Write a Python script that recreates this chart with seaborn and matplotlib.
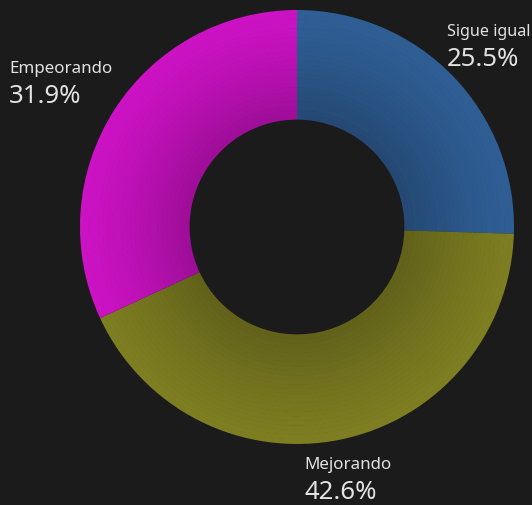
import numpy as np
import matplotlib
matplotlib.use("Agg")
import matplotlib.pyplot as plt
import seaborn as sns
from matplotlib.colors import to_rgb

categories = ["Sigue igual", "Mejorando", "Empeorando"]
values = [25.5, 42.6, 31.9]
colors = ["#2f5e95", "#7d7d22", "#cc12c4"]
pct_labels = ["25.5%", "42.6%", "31.9%"]

sns.set_theme(style="dark")
plt.rcParams['font.family'] = ['Noto Sans', 'DejaVu Sans']

BG = "#1b1b1b"
W, H = 532, 506
fig = plt.figure(figsize=(W / 100, H / 100), dpi=100, facecolor=BG)
ax = fig.add_axes([0, 0, 1, 1])
ax.set_facecolor(BG)

cx, cy = 297, H - 228
r_out, r_in = 217, 108
n = 24
edges = np.linspace(r_out, r_in, n + 1)
for i in range(n):
    t = i / (n - 1)
    f = 1.0 - 0.22 * t ** 1.3
    cols = [tuple(np.array(to_rgb(c)) * f) for c in colors]
    ax.pie(values, colors=cols, startangle=90, counterclock=False,
           radius=edges[i], center=(cx, cy),
           wedgeprops=dict(width=edges[i] - edges[i + 1] + 0.6, linewidth=0))
ax.set_xlim(0, W)
ax.set_ylim(0, H)
ax.set_aspect("equal")
ax.axis("off")

label_pos = {"Sigue igual": (447, 36), "Mejorando": (304, 469), "Empeorando": (9, 73)}
txt = "#e2e2e2"
renderer = fig.canvas.get_renderer()
for cat, pl in zip(categories, pct_labels):
    x, y = label_pos[cat]
    t1 = ax.text(x, H - y, cat, color=txt, fontsize=12.2, ha="left", va="baseline")
    # shrink if the label would run past the right edge
    bb = t1.get_window_extent(renderer)
    if bb.x1 > W - 1:
        t1.set_fontsize(12.2 * (W - 1 - bb.x0) / bb.width)
    t2 = ax.text(x, H - (y + 30), pl, color=txt, fontsize=18.5, fontweight="light",
                 ha="left", va="baseline")
    bb = t2.get_window_extent(renderer)
    if bb.x1 > W - 1:
        t2.set_fontsize(18.5 * (W - 1 - bb.x0) / bb.width)

fig.savefig("out.png", dpi=100, facecolor=BG)
